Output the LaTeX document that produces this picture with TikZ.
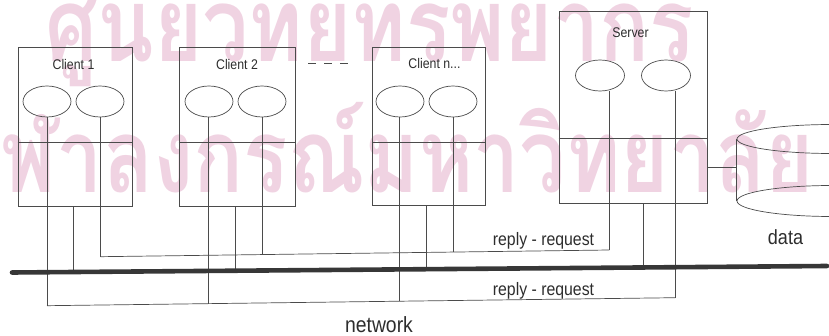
\documentclass[tikz,border=0pt]{standalone}
\usepackage{fontspec}
\setmainfont{Liberation Sans}
\newfontfamily\thaifont[Script=Thai]{Loma}
\usetikzlibrary{shapes.geometric,calc}

\definecolor{ink}{RGB}{75,75,75}
\definecolor{txt}{RGB}{45,45,45}
\definecolor{stamp}{RGB}{240,211,226}
\definecolor{busink}{RGB}{55,55,55}

\newcommand{\stamptext}[1]{\scalebox{0.86}[1.07]{#1}}

\begin{document}
\begin{tikzpicture}[x=1pt,y=-1pt,
  wire/.style={draw=ink,line width=0.7pt},
  unit/.style={draw=ink,line width=0.7pt,rectangle,inner sep=0pt},
  port/.style={draw=ink,line width=0.7pt,ellipse,inner sep=0pt,
               minimum width=48pt,minimum height=31pt},
  lbl/.style={text=txt,inner sep=0pt,xscale=0.88},
  bus/.style={draw=busink,line width=4.6pt,line cap=round},
  stampfont/.style={text=stamp,inner sep=0pt,anchor=base west,
                    font=\thaifont\bfseries\fontsize{96}{96}\selectfont}
]
\useasboundingbox (0,0) rectangle (829,336);
\clip (0,0) rectangle (829,336);

% background stamp
\node[stampfont] (st1) at (45,62) {\stamptext{ศูนย์วิทยทรัพยากร}};
\node[stampfont] (st2) at (0,193) {\stamptext{\llap{จุ}ฬาลงกรณ์มหาวิทยาลัย}};

% machines
\node[unit,minimum width=114pt,minimum height=159pt] (c1) at (75,126.5) {};
\node[unit,minimum width=116pt,minimum height=159pt] (c2) at (237,126.5) {};
\node[unit,minimum width=113pt,minimum height=158pt] (cn) at (428.5,126) {};
\node[unit,minimum width=148pt,minimum height=192pt] (srv) at (633,107) {};

\node[lbl,font=\fontsize{14}{14}\selectfont] (t1) at (73.5,65) {Client 1};
\node[lbl,font=\fontsize{14}{14}\selectfont] (t2) at (237,65) {Client 2};
\node[lbl,font=\fontsize{14}{14}\selectfont] (tn) at (434.5,63.5) {Client n...};
\node[lbl,font=\fontsize{14}{14}\selectfont] (ts) at (630.5,33) {Server};

% dashes between the clients
\coordinate (d0) at (308,63);
\coordinate (d1) at (348,63);
\draw[wire,dash pattern=on 8pt off 8pt] (d0) -- (d1);

% dividers
\coordinate (dv) at (0,142);
\coordinate (dvs) at (0,138);
\draw[wire] (c1.west |- dv) -- (c1.east |- dv);
\draw[wire] (c2.west |- dv) -- (c2.east |- dv);
\draw[wire] (cn.west |- dv) -- (cn.east |- dv);
\draw[wire] (srv.west |- dvs) -- (srv.east |- dvs);

% ports
\node[port] (p11) at (47,101.5) {};
\node[port] (p12) at (100,101.5) {};
\node[port] (p21) at (209,101.5) {};
\node[port] (p22) at (262,101.5) {};
\node[port] (pn1) at (400,101.5) {};
\node[port] (pn2) at (453,101.5) {};
\node[port,minimum width=49pt] (ps1) at (600,75.5) {};
\node[port,minimum width=49pt] (ps2) at (666,75.5) {};

% database
\node[ellipse,draw=ink,line width=0.7pt,inner sep=0pt,minimum width=190pt,minimum height=29pt] (dbtop) at (832,139) {};
\node[ellipse,draw=ink,line width=0.7pt,inner sep=0pt,minimum width=190pt,minimum height=31pt] (dbbot) at (832,201) {};
\draw[wire] (dbtop.west) -- (dbbot.west);
\coordinate (dbl) at ($(dbtop.west)!0.45!(dbbot.west)$);
\draw[wire] (srv.east |- dbl) -- (dbl);
\node[lbl,font=\fontsize{20.5}{20.5}\selectfont] (dat) at (785.5,237.5) {data};

% reply/request lines
\coordinate (U1) at (100.7,256.7);
\coordinate (U2) at (262.7,254.6);
\coordinate (U3) at (453.3,252.1);
\coordinate (U4) at (609.3,250);
\coordinate (L1) at (47,305.7);
\coordinate (L2) at (208.3,303.7);
\coordinate (L3) at (399,301.2);
\coordinate (L4) at (675.3,297.7);

\draw[wire] (p11.south -| L1) -- (L1);
\draw[wire] (p12.south -| U1) -- (U1);
\draw[wire] (p21.south -| L2) -- (L2);
\draw[wire] (p22.south -| U2) -- (U2);
\draw[wire] (pn1.south -| L3) -- (L3);
\draw[wire] (pn2.south -| U3) -- (U3);
\draw[wire] (ps1.south -| U4) -- (U4);
\draw[wire] (ps2.south -| L4) -- (L4);
\draw[wire] (U1) -- (U4);
\draw[wire] (L1) -- (L4);

% network bus and taps
\coordinate (B0) at (12,272.5);
\coordinate (B1) at (827,266);
\coordinate (T1) at (73.3,272);
\coordinate (T2) at (235.7,270.7);
\coordinate (T3) at (426,269.2);
\coordinate (T4) at (643.3,267.5);
\draw[wire] (c1.south -| T1) -- (T1);
\draw[wire] (c2.south -| T2) -- (T2);
\draw[wire] (cn.south -| T3) -- (T3);
\draw[wire] (srv.south -| T4) -- (T4);
\draw[bus] (B0) -- (B1);

\node[lbl,font=\fontsize{18}{18}\selectfont] (rr1) at (543.5,241) {reply - request};
\node[lbl,font=\fontsize{18}{18}\selectfont] (rr2) at (543.5,291) {reply - request};
\node[lbl,font=\fontsize{22}{22}\selectfont] (net) at (379,325) {network};
\end{tikzpicture}
\end{document}
